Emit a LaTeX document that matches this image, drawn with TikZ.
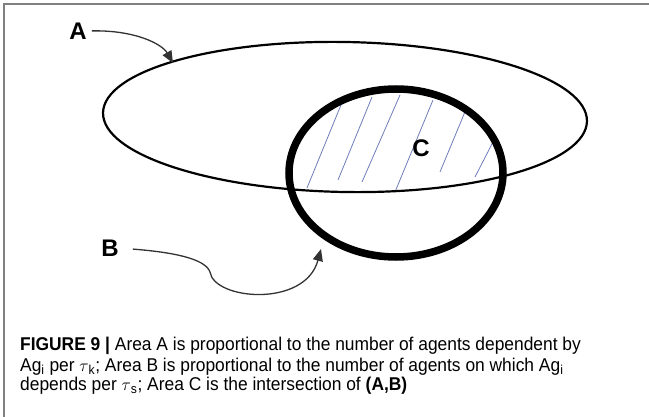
\documentclass[tikz,border=0pt]{standalone}
\usepackage{fontspec}
\setmainfont{Liberation Sans}
\newfontfamily\capfont[FakeStretch=0.94]{Liberation Sans}
\usepackage{xcolor}
\usetikzlibrary{arrows.meta}

\definecolor{hatchblue}{RGB}{110,125,185}

\begin{document}
\begin{tikzpicture}[
    x=1pt, y=-1pt,
    lbl/.style={font=\fontsize{24}{24}\selectfont\bfseries, inner sep=0pt},
    capline/.style={anchor=base west, inner sep=0pt,
        font=\capfont\fontsize{18.5}{20}\selectfont},
    pointer/.style={-{Triangle[length=12pt,width=10pt]}, line width=1.3pt, black!80},
    hatch/.style={line width=0.8pt, hatchblue}
]
\useasboundingbox (0,0) rectangle (649,417);

% frame
\draw[gray, line width=1.5pt] (4,417) -- (4,4) -- (649,4);

% hatching of area C
\draw[hatch] (307,188) -- (343,100);
\draw[hatch] (338,180) -- (372,97);
\draw[hatch] (362,182) -- (400,95);
\draw[hatch] (395,192) -- (433,100);
\draw[hatch] (440,172) -- (467,107);
\draw[hatch] (475,177) -- (495,138);

% areas A and B
\draw[line width=2.2pt, rotate around={-1:(345,117)}] (345,117) ellipse [x radius=242, y radius=75];
\draw[line width=7.5pt] (396,173) ellipse [x radius=107, y radius=84];

% labels
\node[lbl] (labA) at (78,31) {A};
\node[lbl] (labB) at (110,248) {B};
\node[lbl] (labC) at (421,148) {C};

\coordinate (tipA) at (173,63);
\coordinate (tipB) at (321,249);

\draw[pointer, shorten <=5pt] (labA.east) .. controls (135,30) and (162,44) .. (tipA);
\draw[pointer, shorten <=14pt] (labB.east) .. controls (170,252) and (205,258) .. (210,272)
    .. controls (214,300) and (305,308) .. (tipB);

% caption
\node[capline] (cap1) at (20,351) {\textbf{FIGURE 9} \textbf{|} Area A is proportional to the number of agents dependent by};
\node[capline] (cap2) at (20,371) {Ag\textsubscript{i} per $\tau$\textsubscript{k}; Area B is proportional to the number of agents on which Ag\textsubscript{i}};
\node[capline] (cap3) at (20,391) {depends per $\tau$\textsubscript{s}; Area C is the intersection of \textbf{(A,B)}};

\end{tikzpicture}
\end{document}
